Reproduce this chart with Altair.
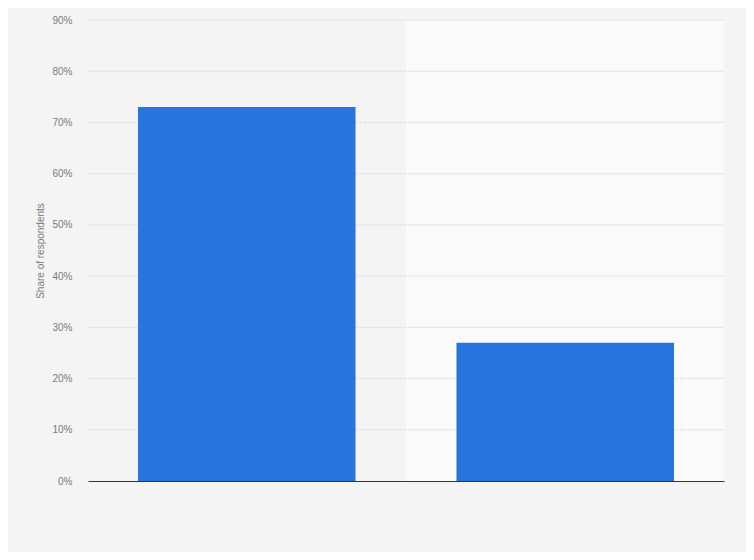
import altair as alt
import pandas as pd

categories = ["Yes", "No"]
shares = [0.73, 0.27]
tick_values = [0.1, 0.2, 0.3, 0.4, 0.5, 0.6, 0.7, 0.8, 0.9]

df = pd.DataFrame({"category": categories, "share": shares})
grid_df = pd.DataFrame({"v": tick_values})

W, H = 636, 461

x_scale = alt.Scale(domain=categories, paddingInner=0.317, paddingOuter=0.157)
y_scale = alt.Scale(domain=[0, 0.9])

y_axis = alt.Axis(format=".0%", values=[0] + tick_values,
                  title="Share of respondents", titleFontSize=10,
                  titleColor="#7a7a7a", titleFontWeight="normal",
                  titleFont="Liberation Sans", titlePadding=6,
                  labelFont="Liberation Sans", labelFontSize=10,
                  labelColor="#7a7a7a", labelPadding=16,
                  ticks=False, domain=False, grid=False)

band = alt.Chart(pd.DataFrame({"a": [1]})).mark_rect(color="#fafafa").encode(
    x=alt.value(W / 2), x2=alt.value(W), y=alt.value(0), y2=alt.value(H)
)

grid = alt.Chart(grid_df).mark_rule(color="#d2d2d2", strokeDash=[1, 1], strokeWidth=1).encode(
    y=alt.Y("v:Q", scale=y_scale, axis=y_axis, title="Share of respondents"),
    x=alt.value(0), x2=alt.value(W),
)

bars = alt.Chart(df).mark_bar(color="#2876dd").encode(
    x=alt.X("category:N", scale=x_scale, sort=categories,
            axis=alt.Axis(labels=False, ticks=False, title=None, domain=True,
                          domainColor="#333333", domainWidth=1)),
    y=alt.Y("share:Q", scale=y_scale, axis=y_axis, title="Share of respondents"),
)

chart = alt.layer(band, grid, bars).properties(
    width=W, height=H,
    background="#f4f4f4",
    padding={"left": 80, "top": 12, "right": 22, "bottom": 71},
    autosize=alt.AutoSizeParams(type="none"),
).configure_view(stroke=None, fill="#f4f4f4")

chart.save("out.html", embed_options={"renderer": "svg", "actions": False})
